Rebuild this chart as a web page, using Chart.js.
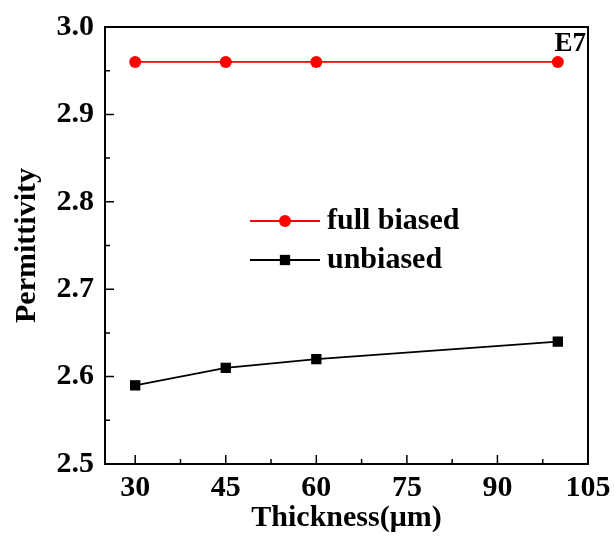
<!DOCTYPE html>
<html>
<head>
<meta charset="utf-8">
<script src="https://cdn.jsdelivr.net/npm/chart.js@4.4.1/dist/chart.umd.min.js"></script>
<style>
  html, body { margin: 0; padding: 0; background: #fff; }
  #wrap { width: 614px; height: 536px; position: relative; }
</style>
</head>
<body>
<div id="wrap"><canvas id="c" width="614" height="536"></canvas></div>
<script>
// Film thickness (µm) and measured permittivity
const thickness = [30, 45, 60, 100];
const fullBiased = [2.96, 2.96, 2.96, 2.96];
const unbiased = [2.59, 2.61, 2.62, 2.64];

// Axis ticks
const xMajorTicks = [30, 45, 60, 75, 90, 105];
const xMinorTicks = [37.5, 52.5, 67.5, 82.5, 97.5];
const yMajorTicks = [2.5, 2.6, 2.7, 2.8, 2.9, 3.0];
const yMinorTicks = [2.55, 2.65, 2.75, 2.85, 2.95];

const seriesNames = ['full biased', 'unbiased'];
const cornerNote = 'E7';

const FONT = 'Liberation Serif, Times New Roman, serif';
const FS = 30;

const toPoints = (xs, ys) => xs.map((x, i) => ({ x, y: ys[i] }));

// Closed frame, inward ticks, in-plot legend and corner label
const framePlugin = {
  id: 'frame',
  afterDatasetsDraw(chart) {
    const { ctx, chartArea: a, scales: { x, y } } = chart;
    ctx.save();
    ctx.strokeStyle = '#000';
    ctx.lineWidth = 2;
    ctx.strokeRect(a.left, a.top, a.right - a.left, a.bottom - a.top);

    ctx.lineWidth = 1.5;
    ctx.beginPath();
    xMajorTicks.forEach(v => { const px = x.getPixelForValue(v); ctx.moveTo(px, a.bottom); ctx.lineTo(px, a.bottom - 9); });
    xMinorTicks.forEach(v => { const px = x.getPixelForValue(v); ctx.moveTo(px, a.bottom); ctx.lineTo(px, a.bottom - 5); });
    yMajorTicks.forEach(v => { const py = y.getPixelForValue(v); ctx.moveTo(a.left, py); ctx.lineTo(a.left + 9, py); });
    yMinorTicks.forEach(v => { const py = y.getPixelForValue(v); ctx.moveTo(a.left, py); ctx.lineTo(a.left + 5, py); });
    ctx.stroke();

    // legend
    const lx0 = 250, lx1 = 320, ly = [221, 260];
    chart.data.datasets.forEach((ds, i) => {
      const yy = ly[i];
      ctx.strokeStyle = ds.borderColor;
      ctx.lineWidth = ds.borderWidth;
      ctx.beginPath();
      ctx.moveTo(lx0, yy); ctx.lineTo(lx1, yy);
      ctx.stroke();
      ctx.fillStyle = ds.pointBackgroundColor;
      const mx = (lx0 + lx1) / 2;
      if (ds.pointStyle === 'rect') {
        const s = ds.pointRadius * Math.SQRT1_2;
        ctx.fillRect(mx - s, yy - s, 2 * s, 2 * s);
      } else {
        ctx.beginPath();
        ctx.arc(mx, yy, ds.pointRadius, 0, Math.PI * 2);
        ctx.fill();
      }
      ctx.fillStyle = '#000';
      ctx.font = 'bold ' + FS + 'px ' + FONT;
      ctx.textAlign = 'left';
      ctx.textBaseline = 'middle';
      ctx.fillText(ds.label, 327, yy);
    });

    ctx.font = 'bold 27px ' + FONT;
    ctx.textAlign = 'right';
    ctx.textBaseline = 'middle';
    ctx.fillStyle = '#000';
    ctx.fillText(cornerNote, a.right - 2, a.top + 17);
    ctx.restore();
  }
};

new Chart(document.getElementById('c'), {
  type: 'line',
  data: {
    datasets: [
      {
        label: seriesNames[0],
        data: toPoints(thickness, fullBiased),
        borderColor: '#ff0000',
        backgroundColor: '#ff0000',
        pointBackgroundColor: '#ff0000',
        pointBorderColor: '#ff0000',
        pointStyle: 'circle',
        pointRadius: 6,
        pointBorderWidth: 0,
        borderWidth: 1.8,
        clip: false
      },
      {
        label: seriesNames[1],
        data: toPoints(thickness, unbiased),
        borderColor: '#000000',
        backgroundColor: '#000000',
        pointBackgroundColor: '#000000',
        pointBorderColor: '#000000',
        pointStyle: 'rect',
        pointRadius: 7.3,
        pointBorderWidth: 0,
        borderWidth: 1.8,
        clip: false
      }
    ]
  },
  options: {
    responsive: false,
    animation: false,
    devicePixelRatio: 1,
    layout: { padding: { top: 27, right: 26, left: 0, bottom: 0 } },
    plugins: { legend: { display: false }, tooltip: { enabled: false } },
    scales: {
      x: {
        type: 'linear',
        min: 25,
        max: 105,
        grid: { display: false, drawTicks: false },
        border: { display: false },
        afterBuildTicks: s => { s.ticks = xMajorTicks.map(v => ({ value: v })); },
        afterFit: s => { s.height = 72; s.paddingLeft = 0; s.paddingRight = 0; },
        ticks: {
          color: '#000',
          padding: 6,
          autoSkip: false,
          maxRotation: 0,
          font: { family: FONT, size: FS, weight: 'bold' },
          callback: v => String(v)
        },
        title: {
          display: true,
          text: 'Thickness(μm)',
          color: '#000',
          padding: { top: 0, bottom: 0 },
          font: { family: FONT, size: FS, weight: 'bold' }
        }
      },
      y: {
        min: 2.5,
        max: 3.0,
        grid: { display: false, drawTicks: false },
        border: { display: false },
        afterBuildTicks: s => { s.ticks = yMajorTicks.map(v => ({ value: v })); },
        afterFit: s => { s.width = 105; s.paddingTop = 0; s.paddingBottom = 0; },
        ticks: {
          color: '#000',
          padding: 11,
          font: { family: FONT, size: FS, weight: 'bold' },
          callback: v => Number(v).toFixed(1)
        },
        title: {
          display: true,
          text: 'Permittivity',
          color: '#000',
          padding: { top: 9, bottom: 0 },
          font: { family: FONT, size: FS, weight: 'bold' }
        }
      }
    }
  },
  plugins: [framePlugin]
});
</script>
</body>
</html>
